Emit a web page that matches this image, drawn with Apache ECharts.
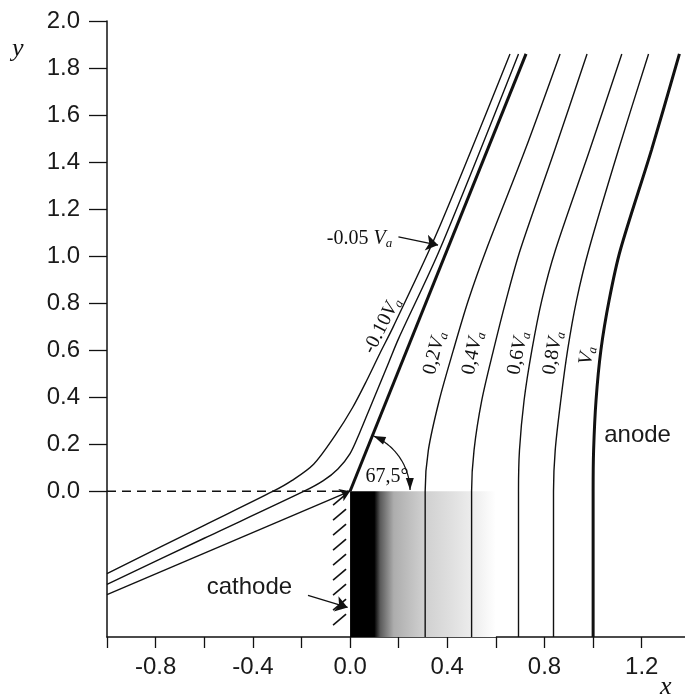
<!DOCTYPE html>
<html>
<head>
<meta charset="utf-8">
<script src="https://cdn.jsdelivr.net/npm/echarts@6/dist/echarts.min.js"></script>
<style>
  html, body { margin: 0; padding: 0; background: #fff; }
  #main { width: 685px; height: 697px; }
</style>
</head>
<body>
<div id="main"></div>
<script>
// axis ticks
var yTickVals = [0, 0.2, 0.4, 0.6, 0.8, 1.0, 1.2, 1.4, 1.6, 1.8, 2.0];
var xTickVals = [-1.0, -0.8, -0.6, -0.4, -0.2, 0, 0.2, 0.4, 0.6, 0.8, 1.0, 1.2];
var xLabelVals = [-0.8, -0.4, 0, 0.4, 0.8, 1.2];
var yMin = -0.62;

// 0 V electrode: lower leg and the 67.5 deg leg
var electrodeLow = [[-1.0, -0.44], [0, 0]];
var electrodeUp = [[0, 0], [0.724, 1.86]];
var beamEdgeLine = [[-1.0, 0], [0, 0]];

// equipotentials
var eqM10 = [[-1.0, -0.35], [-0.6, -0.145], [-0.316, 0], [-0.24, 0.045], [-0.15, 0.115], [-0.06, 0.24],
  [0.01, 0.355], [0.069, 0.472], [0.123, 0.587], [0.177, 0.698], [0.357, 1.098], [0.658, 1.86]];
var eqM05 = [[-1.0, -0.396], [-0.6, -0.2], [-0.189, 0], [-0.11, 0.045], [-0.05, 0.095], [0.0, 0.16],
  [0.04, 0.25], [0.08, 0.35], [0.12, 0.45], [0.16, 0.55], [0.2, 0.65], [0.37, 1.03], [0.693, 1.86]];
var eq02 = [[0.309, -0.62], [0.309, 0], [0.322, 0.174], [0.367, 0.387], [0.425, 0.6], [0.487, 0.813],
  [0.56, 1.026], [0.72, 1.451], [0.864, 1.86]];
var eq04 = [[0.5, -0.62], [0.5, 0], [0.51, 0.174], [0.542, 0.387], [0.59, 0.6], [0.642, 0.813],
  [0.7, 1.026], [0.842, 1.451], [0.975, 1.86]];
var eq06 = [[0.693, -0.62], [0.693, 0], [0.697, 0.174], [0.716, 0.387], [0.748, 0.6], [0.789, 0.813],
  [0.845, 1.026], [0.986, 1.451], [1.118, 1.86]];
var eq08 = [[0.837, -0.62], [0.837, 0], [0.844, 0.174], [0.867, 0.387], [0.895, 0.6], [0.932, 0.813],
  [0.982, 1.026], [1.104, 1.451], [1.228, 1.86]];
var eqVa = [[1.0, -0.62], [1.0, 0], [1.002, 0.174], [1.012, 0.387], [1.032, 0.6], [1.066, 0.813],
  [1.112, 1.026], [1.24, 1.451], [1.355, 1.86]];

// beam: x from, core end, fade end
var beamX = [0, 0.1, 0.6];

var ink = '#111';
var chart = echarts.init(document.getElementById('main'));

function eqLine(data, w) {
  return {
    type: 'line', data: data, smooth: 0.3, symbol: 'none', silent: true, z: 3,
    lineStyle: { color: ink, width: w }
  };
}

var serifRich = {
  n: { fontFamily: 'Liberation Serif', fontSize: 20, color: ink },
  v: { fontFamily: 'Liberation Serif', fontSize: 20, fontStyle: 'italic', color: ink },
  s: { fontFamily: 'Liberation Serif', fontSize: 13, fontStyle: 'italic', color: ink, padding: [10, 0, 0, 0] }
};

function lbl(x, y, fmt, rot) {
  return { value: [x, y], label: { formatter: fmt, rotate: rot || 0 } };
}

var labelBase = {
  show: true, position: [0, 0], align: 'center', verticalAlign: 'middle',
  opacity: 1, textBorderWidth: 0, color: ink
};

var option = {
  animation: false,
  grid: { left: 107, right: 0, top: 21, bottom: 60, outerBoundsMode: 'none' },
  xAxis: {
    type: 'value', min: -1.0, max: 1.378,
    axisLine: { onZero: false, lineStyle: { color: ink, width: 1.5 } },
    axisTick: { customValues: xTickVals, length: 11, lineStyle: { color: ink, width: 1.3 } },
    axisLabel: {
      customValues: xLabelVals, margin: 18, color: '#1a1a1a',
      fontFamily: 'Liberation Sans', fontSize: 24,
      formatter: function (v) { return v.toFixed(1); }
    },
    splitLine: { show: false }
  },
  yAxis: {
    type: 'value', min: yMin, max: 2.0,
    axisLine: { onZero: false, lineStyle: { color: ink, width: 1.5 } },
    axisTick: { customValues: yTickVals, length: 18, lineStyle: { color: ink, width: 1.3 } },
    axisLabel: {
      customValues: yTickVals, margin: 27, color: '#1a1a1a',
      fontFamily: 'Liberation Sans', fontSize: 24,
      formatter: function (v) { return v.toFixed(1); }
    },
    splitLine: { show: false }
  },
  graphic: [
    { type: 'text', left: 12, top: 36, style: { text: 'y', font: 'italic 26px "Liberation Serif"', fill: ink } },
    { type: 'text', left: 660, top: 674, style: { text: 'x', font: 'italic 26px "Liberation Serif"', fill: ink } }
  ],
  series: [
    // beam (dense core + stippled fade)
    {
      type: 'custom', data: [beamX], z: 1, silent: true, clip: true,
      renderItem: function (params, api) {
        var a = api.coord([api.value(0), 0]);
        var b = api.coord([api.value(2), yMin]);
        var core = (api.value(1) - api.value(0)) / (api.value(2) - api.value(0));
        return {
          type: 'rect',
          shape: { x: a[0], y: a[1], width: b[0] - a[0], height: b[1] - a[1] },
          style: {
            fill: new echarts.graphic.LinearGradient(0, 0, 1, 0, [
              { offset: 0, color: '#000' }, { offset: core, color: '#000' },
              { offset: core + 0.04, color: '#5a5a5a' }, { offset: 0.3, color: '#adadad' },
              { offset: 0.5, color: '#cfcfcf' }, { offset: 0.7, color: '#e0e0e0' },
              { offset: 0.88, color: '#f1f1f1' }, { offset: 1, color: '#fff' }
            ])
          }
        };
      }
    },
    // cathode hatch
    {
      type: 'custom', data: [[0, 0]], z: 2, silent: true, clip: false,
      renderItem: function (params, api) {
        var top = api.coord([api.value(0), api.value(1)]);
        var bot = api.coord([api.value(0), yMin]);
        var kids = [];
        for (var y = top[1] + 14; y <= bot[1] + 1; y += 15) {
          kids.push({ type: 'line', shape: { x1: top[0] - 17, y1: y, x2: top[0] - 4, y2: y - 11 },
            style: { stroke: ink, lineWidth: 1.6 } });
        }
        return { type: 'group', children: kids };
      }
    },
    // dashed y = 0
    {
      type: 'line', data: beamEdgeLine, symbol: 'none', silent: true, z: 3,
      lineStyle: { color: ink, width: 1.3, type: [9, 6] }
    },
    // 0 V electrode lower leg with arrow
    {
      type: 'lines', coordinateSystem: 'cartesian2d', silent: true, z: 3,
      symbol: ['none', 'arrow'], symbolSize: [7, 10],
      lineStyle: { color: ink, width: 1.4, opacity: 1 },
      data: [{ coords: electrodeLow }]
    },
    eqLine(electrodeUp, 3),
    eqLine(eqM10, 1.4),
    eqLine(eqM05, 1.4),
    eqLine(eq02, 1.4),
    eqLine(eq04, 1.4),
    eqLine(eq06, 1.4),
    eqLine(eq08, 1.4),
    eqLine(eqVa, 3),
    // angle arc
    {
      type: 'custom', data: [electrodeUp[0]], z: 4, silent: true, clip: false,
      renderItem: function (params, api) {
        var c = api.coord([api.value(0), api.value(1)]);
        var e = api.coord(electrodeUp[1]);
        var a1 = Math.atan2(c[1] - e[1], e[0] - c[0]) - 0.02;
        var a0 = 0.02;
        var r = 60;
        var pts = [];
        for (var i = 0; i <= 48; i++) {
          var a = a0 + (a1 - a0) * i / 48;
          pts.push([c[0] + r * Math.cos(a), c[1] - r * Math.sin(a)]);
        }
        function head(a, dir) {
          var tip = [c[0] + r * Math.cos(a), c[1] - r * Math.sin(a)];
          var tx = -Math.sin(a) * dir, ty = -Math.cos(a) * dir;
          var nx = -ty, ny = tx, L = 12, W = 4;
          return { type: 'polygon', shape: { points: [tip,
            [tip[0] - tx * L + nx * W, tip[1] - ty * L + ny * W],
            [tip[0] - tx * L - nx * W, tip[1] - ty * L - ny * W]] }, style: { fill: ink } };
        }
        return { type: 'group', children: [
          { type: 'polyline', shape: { points: pts }, style: { stroke: ink, lineWidth: 1.2, fill: null } },
          head(a1, 1), head(a0, -1)
        ] };
      }
    },
    // pointer arrows
    {
      type: 'lines', coordinateSystem: 'cartesian2d', silent: true, z: 4,
      symbol: ['none', 'arrow'], symbolSize: [8, 12],
      lineStyle: { color: ink, width: 1.3, opacity: 1 },
      data: [
        { coords: [[-0.173, -0.443], [-0.01, -0.494]] },
        { coords: [[0.199, 1.082], [0.362, 1.047]] }
      ]
    },
    // curve labels
    {
      type: 'scatter', symbolSize: 1, silent: true, z: 5,
      itemStyle: { color: 'rgba(0,0,0,0)' },
      label: Object.assign({ rich: serifRich }, labelBase),
      data: [
        lbl(0.041, 1.072, '{n|-0.05 }{v|V}{s|a}', 0),
        lbl(0.134, 0.703, '{n|-0.10}{v|V}{s|a}', 63),
        lbl(0.35, 0.586, '{n|0,2}{v|V}{s|a}', 76),
        lbl(0.507, 0.586, '{n|0,4}{v|V}{s|a}', 78),
        lbl(0.693, 0.586, '{n|0,6}{v|V}{s|a}', 79),
        lbl(0.837, 0.586, '{n|0,8}{v|V}{s|a}', 80),
        lbl(0.977, 0.575, '{v|V}{s|a}', 81),
        lbl(0.154, 0.061, '{n|67,5°}', 0)
      ]
    },
    {
      type: 'scatter', symbolSize: 1, silent: true, z: 5,
      itemStyle: { color: 'rgba(0,0,0,0)' },
      label: Object.assign({ fontFamily: 'Liberation Sans', fontSize: 24 }, labelBase, { color: '#1a1a1a' }),
      data: [
        { value: [-0.412, -0.409], label: { formatter: 'cathode' } },
        { value: [1.185, 0.235], label: { formatter: 'anode' } }
      ]
    }
  ]
};
chart.setOption(option);
</script>
</body>
</html>
